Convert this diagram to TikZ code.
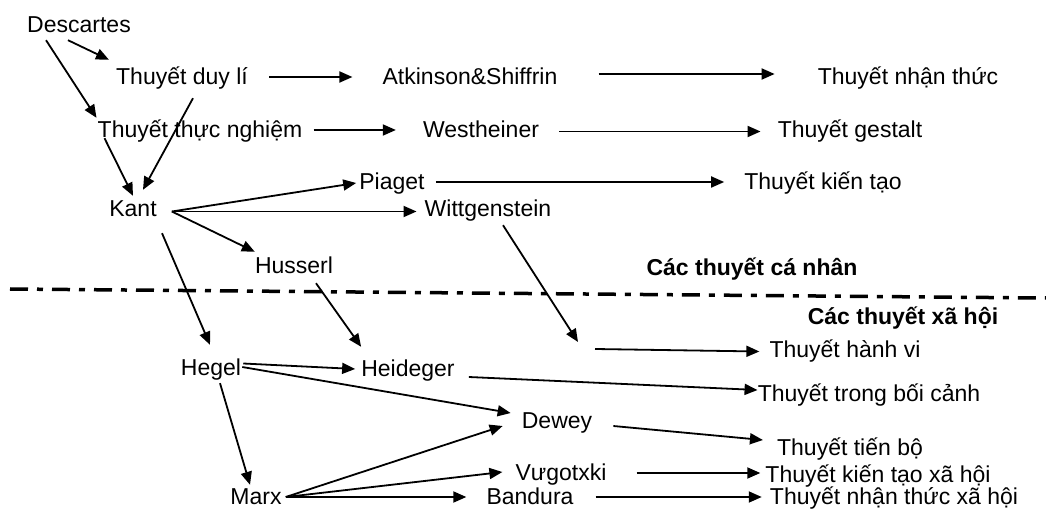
\documentclass[tikz,border=0pt]{standalone}
\usepackage{fontspec}
\setmainfont{Liberation Sans}
\usetikzlibrary{arrows.meta,calc}

\begin{document}
\begin{tikzpicture}[x=1pt,y=-1pt,>={Triangle[length=13pt,width=11pt]},
  lbl/.style={anchor=base,inner sep=0pt,text height=16pt,text depth=5pt,font=\fontsize{23}{27}\selectfont},
  grp/.style={lbl,font=\fontsize{23}{27}\selectfont\bfseries},
  link/.style={->,line width=1.8pt}]
\useasboundingbox (0,0) rectangle (1046,510);
% upper part: individual theories
\node[lbl] (desc) at (79,33) {Descartes};
\node[lbl] (duyli) at (182,85) {Thuyết duy lí};
\node[lbl] (atk) at (470,85) {Atkinson\&Shiffrin};
\node[lbl] (nhanthuc) at (908,85) {Thuyết nhận thức};
\node[lbl] (thucngh) at (200,138) {Thuyết thực nghiệm};
\node[lbl] (west) at (481,138) {Westheiner};
\node[lbl] (gestalt) at (850,138) {Thuyết gestalt};
\node[lbl] (kant) at (133,217) {Kant};
\node[lbl] (piaget) at (392,190) {Piaget};
\node[lbl] (kientao) at (823,190) {Thuyết kiến tạo};
\node[lbl] (witt) at (488,217) {Wittgenstein};
\node[lbl] (husserl) at (294,274) {Husserl};
\node[grp] (canhan) at (752,276) {Các thuyết cá nhân};
% lower part: social theories
\node[grp] (xahoi) at (903,324) {Các thuyết xã hội};
\node[lbl] (hanhvi) at (845,357) {Thuyết hành vi};
\node[lbl] (hegel) at (211,375) {Hegel};
\node[lbl] (heideger) at (408,376) {Heideger};
\node[lbl] (boicanh) at (869,401) {Thuyết trong bối cảnh};
\node[lbl] (dewey) at (557,428) {Dewey};
\node[lbl] (tienbo) at (850,455) {Thuyết tiến bộ};
\node[lbl] (vugot) at (561,480) {Vưgotxki};
\node[lbl] (kientaoxh) at (878,482) {Thuyết kiến tạo xã hội};
\node[lbl] (marx) at (256,504) {Marx};
\node[lbl] (bandura) at (530,504) {Bandura};
\node[lbl] (nhanthucxh) at (894,504) {Thuyết nhận thức xã hội};
\coordinate (wend) at (578,342);
\coordinate (hvstart) at (595,349);
% separator
\draw[line width=3.5pt,dash pattern=on 18pt off 9pt on 6pt off 9pt] (10,289) -- (1046,298);
% connectors
\draw[link] ($(desc.south)+(-11,2)$) -- ($(duyli.north west)+(-7,-9)$);
\draw[link] ($(desc.south west)+(19,2)$) -- ($(thucngh.north west)+(-1,-4)$);
\draw[link] ($(duyli.south)+(11,8)$) -- ($(kant.north)+(10,-11)$);
\draw[link] ($(thucngh.south west)+(7,-5)$) -- ($(kant.north)+(0,-5)$);
\draw[link] ($(duyli.east)+(21,-2.5)$) -- ($(atk.west)+(-30,-2.5)$);
\draw[link] ($(atk.east)+(41,-5.5)$) -- ($(nhanthuc.west)+(-43,-5.5)$);
\draw[link] ($(thucngh.east)+(11,-2.5)$) -- ($(west.west)+(-27,-2.5)$);
\draw[link] ($(west.east)+(20,-1)$) -- ($(gestalt.west)+(-17,-1)$);
\draw[link] ($(kant.east)+(15,0)$) -- ($(piaget.west)+(-3,-1.5)$);
\draw[link] ($(kant.east)+(15,0)$) -- ($(witt.west)+(-8,0)$);
\draw[link] ($(kant.east)+(15,0)$) -- ($(husserl.north west)+(0,-6)$);
\draw[link] ($(piaget.east)+(11,-2.5)$) -- ($(kientao.west)+(-20,-2.5)$);
\draw[link] ($(witt.south)+(15,3)$) -- (wend);
\draw[link] (hvstart) -- ($(hanhvi.west)+(-10,0)$);
\draw[link] ($(husserl.south)+(22,4)$) -- ($(heideger.north west)+(0,-13)$);
\draw[link] ($(kant.south)+(29,11)$) -- ($(hegel.north)+(-1,-14)$);
\draw[link] ($(hegel.east)+(2,-6)$) -- ($(heideger.west)+(-6,-1.5)$);
\draw[link] ($(hegel.east)+(1,-2.5)$) -- ($(dewey.west)+(-11,-9.5)$);
\draw[link] ($(heideger.east)+(14,6.5)$) -- ($(boicanh.west)+(0,-5.5)$);
\draw[link] ($(dewey.east)+(21,3.5)$) -- ($(tienbo.west)+(-14,-9.5)$);
\draw[link] ($(hegel.south)+(9,3)$) -- ($(marx.north)+(-6,-3)$);
\draw[link] ($(marx.east)+(4,-1.5)$) -- ($(dewey.west)+(-19,3.5)$);
\draw[link] ($(marx.east)+(4,-1.5)$) -- ($(vugot.west)+(-13,-2.5)$);
\draw[link] ($(marx.east)+(4,-1.5)$) -- ($(bandura.west)+(-20,-1.5)$);
\draw[link] ($(vugot.east)+(30,-1.5)$) -- ($(kientaoxh.west)+(-5,-3.5)$);
\draw[link] ($(bandura.east)+(22,-1.5)$) -- ($(nhanthucxh.west)+(-8,-1.5)$);
\end{tikzpicture}
\end{document}
